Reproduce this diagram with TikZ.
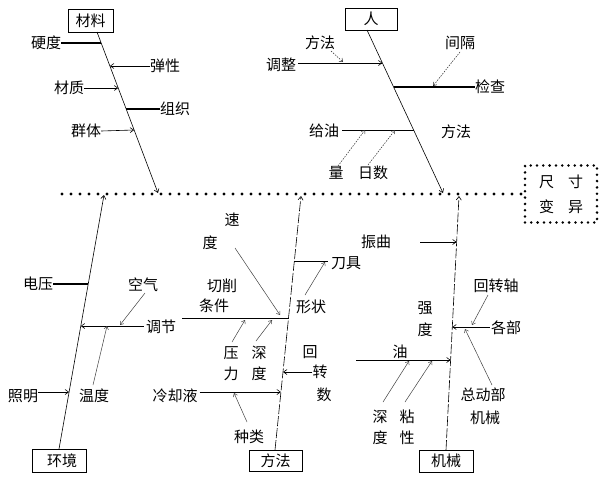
\documentclass[tikz,border=0pt]{standalone}
\usepackage{fontspec}
\newfontfamily\cjk{Noto Sans CJK SC}
\usetikzlibrary{arrows.meta}
\begin{document}
\begin{tikzpicture}[x=1pt,y=-1pt,
  lbl/.style={font=\cjk\fontsize{15}{17}\selectfont, inner sep=0pt},
  cbox/.style={lbl, draw, line width=0.7pt},
  spine/.style={line width=0.6pt},
  dspine/.style={line width=0.6pt, dash pattern=on 10pt off 2pt},
  br/.style={line width=0.6pt},
  thickbr/.style={line width=1.4pt},
  arr/.style={-{Straight Barb[length=3.5pt,width=5pt]}},
  sub/.style={line width=0.5pt, black!75, -{Straight Barb[length=3pt,width=4.5pt]}},
  dsub/.style={sub, black!85, dash pattern=on 1.5pt off 1.2pt},
  dotline/.style={line width=3.3pt, line cap=round, dash pattern=on 0pt off 9pt},
  dotbox/.style={lbl, draw, line width=2.8pt, line cap=round, dash pattern=on 0pt off 6.3pt}
]
\useasboundingbox (0,0) rectangle (601,480);

% ---------- main dotted line and effect box
\node[dotbox, minimum width=72pt, minimum height=57pt, align=center,
      font=\cjk\fontsize{15}{25}\selectfont] (eff) at (561,194) {尺\hspace{14pt}寸\\变\hspace{14pt}异};
\coordinate (mainL) at (62,194);
\draw[dotline] (mainL) -- (eff.west);

% ---------- category boxes
\node[cbox, minimum width=45pt, minimum height=23pt] (mat) at (90.5,20.5) {材料};
\node[cbox, minimum width=52pt, minimum height=22pt] (ren) at (371,19) {人};
\node[cbox, minimum width=54pt, minimum height=23pt] (env) at (59,460.5) {\hspace{6pt}环境};
\node[cbox, minimum width=53pt, minimum height=21pt] (met) at (275.5,460.5) {方法};
\node[cbox, minimum width=54pt, minimum height=22pt] (mac) at (446,461) {机械};

% ---------- spines
\coordinate (matA) at (97,32);   \coordinate (matB) at (158,193);
\coordinate (renA) at (367,30);  \coordinate (renB) at (443,193);
\coordinate (envA) at (59,449);  \coordinate (envB) at (104,195);
\coordinate (metA) at (275,450); \coordinate (metB) at (301,196);
\coordinate (macA) at (446,450); \coordinate (macB) at (459,196);
\draw[spine,arr] (matA) -- (matB);
\draw[spine,arr] (renA) -- (renB);
\draw[spine,arr] (envA) -- (envB);
\draw[dspine,arr] (metA) -- (metB);
\draw[dspine,arr] (macA) -- (macB);

% ---------- 材料 branches
\node[lbl] (ydu) at (46,43) {硬度};
\node[lbl] (tx) at (165,66) {弹性};
\node[lbl] (cz) at (69,88) {材质};
\node[lbl] (zz) at (175,109) {组织};
\node[lbl] (qt) at (86,131) {群体};
\coordinate (m1) at (101.2,43);
\coordinate (m2) at (109.9,66);
\coordinate (m3) at (118.2,88);
\coordinate (m4) at (126.2,109);
\coordinate (m5) at (134.1,130);
\draw[thickbr] (ydu.east) -- (m1);
\draw[br,arr] (tx.west) -- (m2);
\draw[br,arr] (cz.east) -- (m3);
\draw[thickbr] (zz.west) -- (m4);
\draw[br,arr] (qt.east) -- (m5);

% ---------- 人 branches
\node[lbl] (tzh) at (281,65) {调整};
\node[lbl] (ff1) at (320,43) {方法};
\node[lbl] (jg) at (460,43) {间隔};
\node[lbl] (jc) at (490,87) {检查};
\node[lbl] (gy) at (324,131) {给油};
\node[lbl] (ff2) at (456,132) {方法};
\node[lbl] (liang) at (336,173) {量};
\node[lbl] (rs) at (373,173) {日数};
\coordinate (r1) at (382.4,63);
\coordinate (r2) at (393.6,87);
\coordinate (r3) at (413.6,130);
\draw[br,arr] ([xshift=2pt]tzh.east |- r1) -- (r1);
\draw[thickbr] (jc.west) -- (r2);
\draw[br] ([xshift=3pt]gy.east |- r3) -- (r3);
\coordinate (r1a) at (343,62);
\draw[dsub] (331,51) -- (r1a);
\coordinate (r2a) at (433,86);
\draw[dsub] (460,52) -- (r2a);
\coordinate (r3a) at (365,130);
\coordinate (r3b) at (395,130);
\draw[dsub] (338,166) -- (r3a);
\draw[dsub] (368,165) -- (r3b);

% ---------- 环境 branches
\node[lbl] (dy) at (38,284) {电压};
\node[lbl] (kq) at (143,285) {空气};
\node[lbl] (tj) at (161,327) {调节};
\node[lbl] (wd) at (94,396) {温度};
\node[lbl] (zm) at (23,396) {照明};
\coordinate (e1) at (88.2,284);
\coordinate (e2) at (80.8,326);
\coordinate (e3) at (69.1,392);
\draw[thickbr] (dy.east) -- (e1);
\draw[br,arr] ([xshift=-2pt]tj.west |- e2) -- (e2);
\draw[br,arr] (zm.east |- e3) -- (e3);
\coordinate (e2a) at (120,325);
\coordinate (e2b) at (107,326);
\draw[sub] (145,293) -- (e2a);
\draw[sub] (93,385) -- (e2b);

% ---------- 方法 branches
\node[lbl] (su) at (232,220) {速};
\node[lbl] (sudu) at (210,243) {度};
\node[lbl] (qx) at (222,286) {切削};
\node[lbl] (tjian) at (214,306) {条件};
\node[lbl] (dj) at (346,263) {刀具};
\node[lbl] (xz) at (311,307) {形状};
\node[lbl] (ya) at (231,353) {压};
\node[lbl] (li) at (231,374) {力};
\node[lbl] (shen) at (259,353) {深};
\node[lbl] (shendu) at (259,374) {度};
\node[lbl] (hui) at (310,352) {回};
\node[lbl] (zhuan) at (320,372) {转};
\node[lbl] (shu) at (324,395) {数};
\node[lbl] (lqy) at (175,396) {冷却液};
\node[lbl] (zl) at (249,437) {种类};
\coordinate (f1) at (294.4,261);
\coordinate (f2) at (288.5,318);
\coordinate (f3) at (283,372);
\coordinate (f4) at (280.9,392);
\coordinate (qxL) at (182,318);
\draw[br] ([xshift=-3pt]dj.west |- f1) -- (f1);
\draw[br] (qxL) -- (f2);
\draw[br,arr] (zhuan.west |- f3) -- (f3);
\draw[br,arr] ([xshift=2pt]lqy.east |- f4) -- (f4);
\coordinate (f1a) at (325,262);
\draw[sub] (305,295) -- (f1a);
\coordinate (f2a) at (280,315);
\coordinate (f2b) at (245,320);
\coordinate (f2c) at (272,320);
\draw[sub] (235,248) -- (f2a);
\draw[sub] (232,342) -- (f2b);
\draw[sub] (256,341) -- (f2c);
\coordinate (f4a) at (234,393);
\draw[sub] (247,422) -- (f4a);

% ---------- 机械 branches
\node[lbl] (zq) at (376,242) {振曲};
\node[lbl] (hzz) at (496,286) {回转轴};
\node[lbl] (gb) at (506,328) {各部};
\node[lbl] (qiang) at (425,308) {强};
\node[lbl] (qdu) at (425,330) {度};
\node[lbl] (you) at (400,352) {油};
\node[lbl] (zdb) at (483,395) {总动部};
\node[lbl] (jx) at (485,418) {机械};
\node[lbl] (s2) at (380,417) {深};
\node[lbl] (d2) at (380,438) {度};
\node[lbl] (nian) at (407,417) {粘};
\node[lbl] (xing) at (407,438) {性};
\coordinate (k1) at (456.6,242);
\coordinate (k2) at (452.3,327);
\coordinate (k3) at (450.6,360);
\coordinate (zqL) at (420,242);
\coordinate (youL) at (356,360);
\draw[br,arr] (zqL) -- (k1);
\draw[br,arr] ([xshift=-1pt]gb.west |- k2) -- (k2);
\draw[br,arr] (youL) -- (k3);
\coordinate (k2a) at (472,325);
\coordinate (k2b) at (465,329);
\draw[sub] (488,295) -- (k2a);
\draw[sub] (492,385) -- (k2b);
\coordinate (k3a) at (409,361);
\coordinate (k3b) at (432,361);
\draw[sub] (383,402) -- (k3a);
\draw[sub] (405,402) -- (k3b);
\end{tikzpicture}
\end{document}
